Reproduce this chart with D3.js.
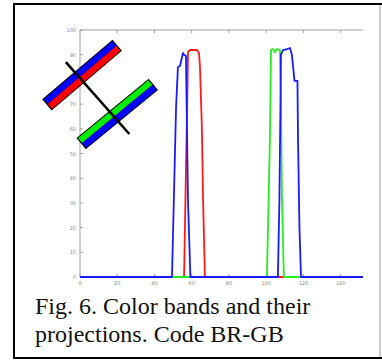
<!DOCTYPE html>
<html>
<head>
<meta charset="utf-8">
<script src="https://cdn.jsdelivr.net/npm/d3@7"></script>
<style>
  body { margin: 0; background: #fff; }
  svg { display: block; }
</style>
</head>
<body>
<div id="chart"></div>
<script>
// tick labels
const xTicks = [0, 20, 40, 60, 80, 100, 120, 140];
const yTicks = [0, 10, 20, 30, 40, 50, 60, 70, 80, 90, 100];

// series
const redX = [0, 55.9, 56.9, 57.7, 58.0, 59.1, 62.8, 63.9, 64.4, 65.5, 66.1, 67.1, 152];
const redY = [0, 0, 43.3, 75.7, 91.1, 91.9, 91.9, 90.7, 85.8, 59.5, 31.2, 0, 0];

const greenX = [0, 100.4, 102.0, 102.6, 103.7, 104.7, 105.8, 107.4, 107.9, 108.5, 109.5, 152];
const greenY = [0, 0, 55.5, 91.9, 92.3, 91.0, 92.3, 91.9, 71.7, 31.2, 0, 0];

const blueX = [0, 49.4, 51.6, 52.6, 53.7, 55.3, 55.9, 56.9, 58.0, 59.3,
  106.3, 107.1, 107.7, 107.9, 109.0, 111.2, 112.8, 113.8, 114.9, 115.2, 116.8, 117.1, 117.9, 118.7, 152];
const blueY = [0, 0, 68.8, 85.0, 85.4, 90.7, 90.0, 89.5, 31.0, 0,
  0, 31.2, 71.7, 89.9, 91.9, 92.3, 92.7, 89.9, 81.8, 79.4, 79.4, 55.5, 19.0, 0, 0];

// inset sketch (band centre lines + cut line), in axis units
const bandRB = [[-17.3, 70.0], [19.5, 93.5]];
const bandGB = [[1.1, 54.3], [38.9, 77.7]];
const cutLine = [[-7.6, 87.0], [26.5, 57.9]];

const caption = ["Fig. 6. Color bands and their", "projections. Code BR-GB"];

const W = 382, H = 360;
const svg = d3.select("#chart").append("svg")
  .attr("width", W).attr("height", H);

// frame of the figure
svg.append("line").attr("x1", 14).attr("y1", 4).attr("x2", 382).attr("y2", 4)
  .attr("stroke", "#000").attr("stroke-width", 2);
svg.append("line").attr("x1", 14).attr("y1", 358).attr("x2", 382).attr("y2", 358)
  .attr("stroke", "#000").attr("stroke-width", 2);
svg.append("line").attr("x1", 14).attr("y1", 3).attr("x2", 14).attr("y2", 359)
  .attr("stroke", "#000").attr("stroke-width", 2);
svg.append("line").attr("x1", 380).attr("y1", 5).attr("x2", 380).attr("y2", 357)
  .attr("stroke", "#999").attr("stroke-width", 1);

const x = d3.scaleLinear().domain([0, 152]).range([80, 363]);
const y = d3.scaleLinear().domain([0, 100]).range([277, 30]);

const axisColor = "#a0a0a0";
const g = svg.append("g");

// axes box (left, top, bottom)
g.append("line").attr("x1", x(0)).attr("x2", x(0)).attr("y1", y(0)).attr("y2", y(100))
  .attr("stroke", axisColor);
g.append("line").attr("x1", x(0)).attr("x2", x(152)).attr("y1", y(100)).attr("y2", y(100))
  .attr("stroke", axisColor);
g.append("line").attr("x1", x(0)).attr("x2", x(152)).attr("y1", y(0)).attr("y2", y(0))
  .attr("stroke", axisColor);

g.selectAll(".yt").data(yTicks).join("line")
  .attr("x1", x(0)).attr("x2", x(0) + 3)
  .attr("y1", d => y(d)).attr("y2", d => y(d))
  .attr("stroke", axisColor);
g.selectAll(".yl").data(yTicks).join("text")
  .attr("x", x(0) - 4).attr("y", d => y(d) + 2)
  .attr("text-anchor", "end")
  .attr("font-family", "DejaVu Sans").attr("font-size", 5)
  .attr("fill", "#888").text(d => d);

g.selectAll(".xt").data(xTicks).join("line")
  .attr("x1", d => x(d)).attr("x2", d => x(d))
  .attr("y1", y(0)).attr("y2", y(0) - 3)
  .attr("stroke", axisColor);
g.selectAll(".xtt").data(xTicks).join("line")
  .attr("x1", d => x(d)).attr("x2", d => x(d))
  .attr("y1", y(100)).attr("y2", y(100) + 3)
  .attr("stroke", axisColor);
g.selectAll(".xl").data(xTicks).join("text")
  .attr("x", d => x(d)).attr("y", y(0) + 8)
  .attr("text-anchor", "middle")
  .attr("font-family", "DejaVu Sans").attr("font-size", 5)
  .attr("fill", "#888").text(d => d);

// curves
const line = d3.line().x(d => x(d[0])).y(d => y(d[1]));
const series = [
  { xs: redX, ys: redY, color: "#ff1a1a" },
  { xs: greenX, ys: greenY, color: "#22ee22" },
  { xs: blueX, ys: blueY, color: "#1a1aff" }
];
series.forEach(s => {
  g.append("path")
    .datum(s.xs.map((v, i) => [v, s.ys[i]]))
    .attr("d", line)
    .attr("fill", "none")
    .attr("stroke", s.color)
    .attr("stroke-width", 1.8)
    .attr("stroke-linejoin", "round");
});

// inset: two coloured bands and the cutting line
function band(pts, upper, lower) {
  const p0 = [x(pts[0][0]), y(pts[0][1])];
  const p1 = [x(pts[1][0]), y(pts[1][1])];
  const dx = p1[0] - p0[0], dy = p1[1] - p0[1];
  const len = Math.hypot(dx, dy);
  const ux = dx / len, uy = dy / len;
  const nx = uy, ny = -ux; // points up-left
  const seg = (o, e) => [p0[0] + nx * o - ux * e, p0[1] + ny * o - uy * e,
                         p1[0] + nx * o + ux * e, p1[1] + ny * o + uy * e];
  const bg = g.append("g");
  const add = (s, color, w) => bg.append("line")
    .attr("x1", s[0]).attr("y1", s[1]).attr("x2", s[2]).attr("y2", s[3])
    .attr("stroke", color).attr("stroke-width", w);
  add(seg(0, 1.2), "#000", 14.6);
  add(seg(3.2, 0), upper, 6.4);
  add(seg(-3.2, 0), lower, 6.4);
}
band(bandRB, "#0000ff", "#ff0000");
band(bandGB, "#00ee00", "#0000ff");

g.append("line")
  .attr("x1", x(cutLine[0][0])).attr("y1", y(cutLine[0][1]))
  .attr("x2", x(cutLine[1][0])).attr("y2", y(cutLine[1][1]))
  .attr("stroke", "#000").attr("stroke-width", 2.5);

// caption
svg.selectAll(".cap").data(caption).join("text")
  .attr("x", 35).attr("y", (d, i) => 314 + i * 28)
  .attr("font-family", "Liberation Serif").attr("font-size", 24)
  .attr("fill", "#111").text(d => d);
</script>
</body>
</html>
